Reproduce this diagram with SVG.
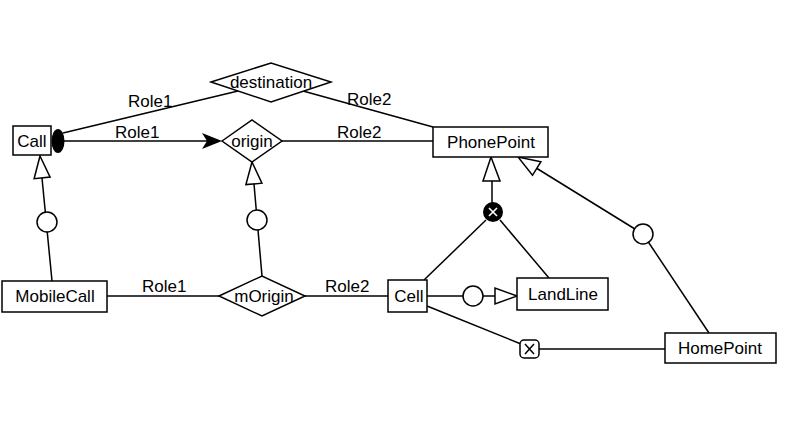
<svg xmlns="http://www.w3.org/2000/svg" width="792" height="422" viewBox="0 0 792 422">
<style>
.b{fill:#fff;stroke:#000;stroke-width:1.5}
.l{fill:none;stroke:#000;stroke-width:1.5}
text{font-family:"Liberation Sans",Arial,sans-serif;font-size:17px;fill:#000}
.c{text-anchor:middle}
</style>
<rect width="792" height="422" fill="#fff"/>
<g id="connectors">
<line class="l" x1="63" y1="133" x2="238" y2="91"/>
<line class="l" x1="303" y1="91" x2="433" y2="127"/>
<line class="l" x1="64" y1="141" x2="208" y2="141"/>
<path d="M222,141 L202,133 L207,141 L202,149 Z" fill="#000"/>
<line class="l" x1="282" y1="141" x2="433" y2="141"/>
<line class="l" x1="52" y1="281" x2="42" y2="178"/>
<polygon class="b" points="40,156 50.1,177.1 34.1,178.7"/>
<circle class="b" cx="47" cy="222" r="10"/>
<line class="l" x1="262" y1="276" x2="254" y2="184"/>
<polygon class="b" points="252,162 261.9,183.2 245.9,184.6"/>
<circle class="b" cx="257" cy="220" r="10"/>
<line class="l" x1="107" y1="296" x2="219" y2="296"/>
<line class="l" x1="305" y1="296" x2="388" y2="296"/>
<line class="l" x1="492" y1="181" x2="492" y2="203"/>
<polygon class="b" points="491,157 500,181 483,181"/>
<line class="l" x1="486" y1="220" x2="424" y2="280"/>
<line class="l" x1="500" y1="220" x2="549" y2="278"/>
<circle cx="493" cy="212" r="10" fill="#000"/>
<path d="M489,208 L497,216 M497,208 L489,216" stroke="#fff" stroke-width="1.6"/>
<line class="l" x1="427" y1="296" x2="495" y2="296"/>
<circle class="b" cx="473" cy="296" r="10"/>
<polygon class="b" points="517,296 495,288 495,304"/>
<line class="l" x1="709" y1="333" x2="643" y2="234"/>
<line class="l" x1="643" y1="234" x2="537" y2="168.5"/>
<polygon class="b" points="518,157 540.9,161.7 532.5,175.3"/>
<circle class="b" cx="643" cy="234" r="10"/>
<line class="l" x1="427" y1="306" x2="521" y2="344"/>
<line class="l" x1="539" y1="349" x2="665" y2="349"/>
<rect class="b" x="520" y="340" width="19" height="18" rx="4"/>
<path d="M525,344 L534,354 M534,344 L525,354" class="l"/>
<ellipse cx="58" cy="141" rx="6.5" ry="12" fill="#000"/>
<text x="128" y="107">Role1</text>
<text x="115" y="138">Role1</text>
<text x="347" y="105">Role2</text>
<text x="337" y="138">Role2</text>
<text x="142" y="292">Role1</text>
<text x="325" y="292">Role2</text>
</g>
<g id="Call">
<rect class="b" x="13" y="126" width="38" height="29"/>
<text class="c" x="32" y="147">Call</text>
</g>
<g id="destination">
<polygon class="b" points="211,82 271,63 331,82 271,102"/>
<text class="c" x="271" y="88">destination</text>
</g>
<g id="origin">
<polygon class="b" points="222,141 252,120 282,141 252,162"/>
<text class="c" x="252" y="147">origin</text>
</g>
<g id="PhonePoint">
<rect class="b" x="433" y="127" width="115" height="30"/>
<text class="c" x="491" y="148">PhonePoint</text>
</g>
<g id="MobileCall">
<rect class="b" x="2" y="281" width="105" height="31"/>
<text class="c" x="55" y="302">MobileCall</text>
</g>
<g id="mOrigin">
<polygon class="b" points="219,296 262,276 305,296 262,316"/>
<text class="c" x="264" y="302">mOrigin</text>
</g>
<g id="Cell">
<rect class="b" x="388" y="280" width="39" height="32"/>
<text class="c" x="409" y="302">Cell</text>
</g>
<g id="LandLine">
<rect class="b" x="517" y="278" width="91" height="32"/>
<text class="c" x="563" y="300">LandLine</text>
</g>
<g id="HomePoint">
<rect class="b" x="665" y="333" width="111" height="30"/>
<text class="c" x="720" y="354">HomePoint</text>
</g>
</svg>
